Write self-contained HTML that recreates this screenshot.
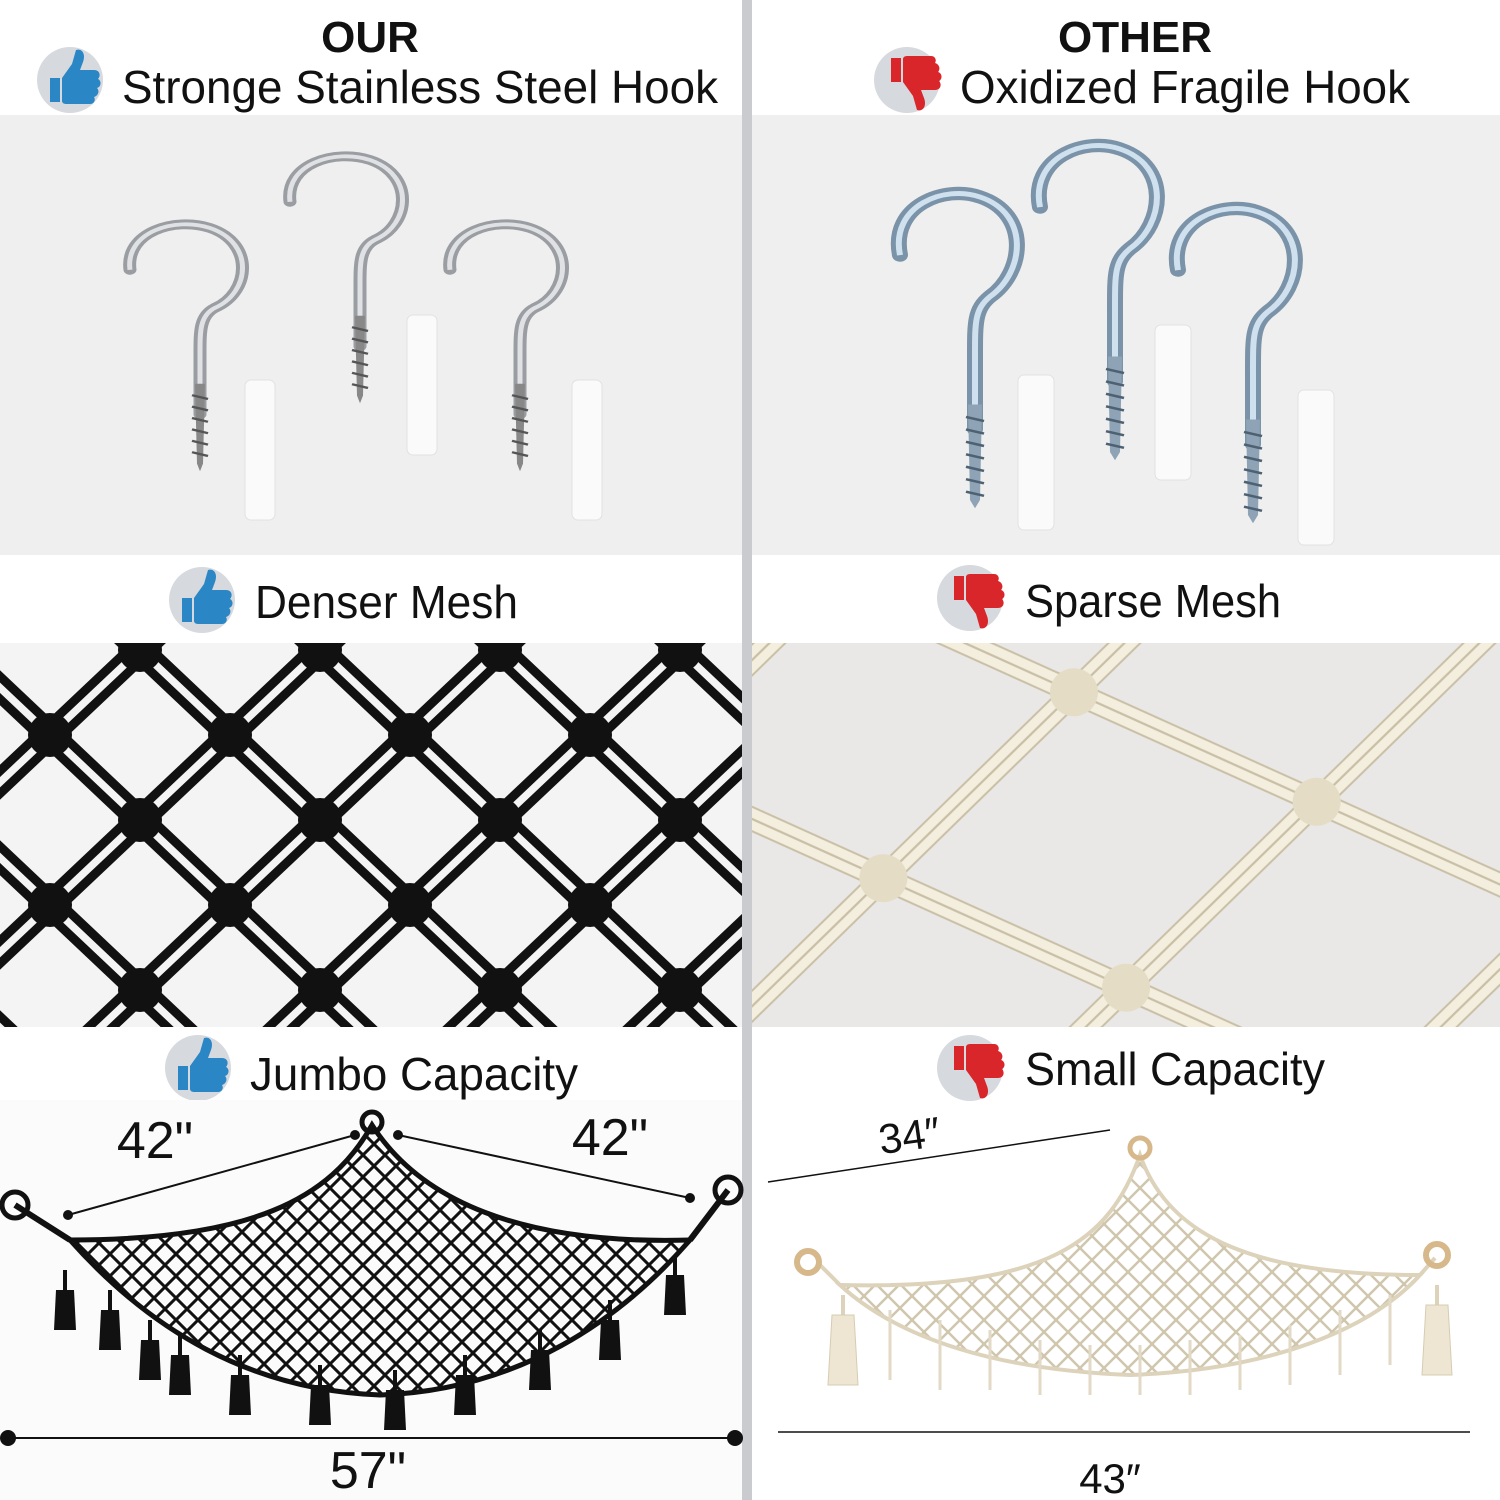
<!DOCTYPE html>
<html><head><meta charset="utf-8"><style>
html,body{margin:0;padding:0;background:#fff}
svg{display:block}
text{font-family:"Liberation Sans","DejaVu Sans",sans-serif;fill:#111}
</style></head><body>
<svg width="1500" height="1500" viewBox="0 0 1500 1500" xmlns="http://www.w3.org/2000/svg">
<defs>
<pattern id="blk" x="-40" y="650" width="180" height="170" patternUnits="userSpaceOnUse">
 <g stroke="#111" stroke-width="9" fill="none" stroke-linecap="round">
  <path d="M-12,0 L78,85 M12,0 L102,85 M168,0 L78,85 M192,0 L102,85 M78,85 L-12,170 M102,85 L12,170 M78,85 L168,170 M102,85 L192,170"/>
 </g>
 <g fill="#111"><circle cx="0" cy="0" r="22"/><circle cx="180" cy="0" r="22"/><circle cx="90" cy="85" r="22"/><circle cx="0" cy="170" r="22"/><circle cx="180" cy="170" r="22"/></g>
</pattern>
<pattern id="crm" x="880" y="540" width="440" height="300" patternUnits="userSpaceOnUse" patternTransform="rotate(-10 1100 840)">
 <g stroke="#c9bfa6" stroke-width="13" fill="none"><path d="M-10,0 L210,150 M10,0 L230,150 M430,0 L210,150 M450,0 L230,150 M210,150 L-10,300 M230,150 L10,300 M210,150 L430,300 M230,150 L450,300"/></g>
 <g stroke="#f3eedd" stroke-width="9" fill="none"><path d="M-10,0 L210,150 M10,0 L230,150 M430,0 L210,150 M450,0 L230,150 M210,150 L-10,300 M230,150 L10,300 M210,150 L430,300 M230,150 L450,300"/></g>
 <g fill="#e4dcc4"><circle cx="0" cy="0" r="24"/><circle cx="440" cy="0" r="24"/><circle cx="220" cy="150" r="24"/><circle cx="0" cy="300" r="24"/><circle cx="440" cy="300" r="24"/></g>
</pattern>
<pattern id="net" width="22" height="22" patternUnits="userSpaceOnUse"><path d="M0,0 L22,22 M22,0 L0,22" stroke="#111" stroke-width="3"/></pattern>
<pattern id="net2" width="24" height="24" patternUnits="userSpaceOnUse"><path d="M0,0 L24,24 M24,0 L0,24" stroke="#cfc6ad" stroke-width="2.5"/></pattern>
<g id="hookL"><path d="M-65,-70 C-70,-120 -20,-140 15,-125 C60,-105 55,-40 20,-20 C5,-10 5,10 5,40 L5,120" stroke="#9a9da2" stroke-width="13" fill="none" stroke-linecap="round"/><path d="M-65,-70 C-70,-120 -20,-140 15,-125 C60,-105 55,-40 20,-20 C5,-10 5,10 5,40 L5,120" stroke="#dfe1e4" stroke-width="5" fill="none"/><path d="M0,80 L10,80 L8,185 L5,195 L2,185 Z" fill="#888" /><path d="M-3,95 L13,100 M-3,110 L13,115 M-3,125 L13,130 M-3,140 L13,145 M-3,155 L13,160 M-3,170 L13,175" stroke="#555" stroke-width="3"/></g>
<g id="hookR"><path d="M-60,-30 C-70,-90 -15,-115 20,-100 C70,-80 65,-10 30,20 C15,35 15,50 15,90 L15,180" stroke="#7a93a8" stroke-width="16" fill="none" stroke-linecap="round"/><path d="M-60,-30 C-70,-90 -15,-115 20,-100 C70,-80 65,-10 30,20 C15,35 15,50 15,90 L15,180" stroke="#cfe0ee" stroke-width="6" fill="none"/><path d="M8,150 L22,150 L20,265 L15,275 L10,265 Z" fill="#8ea3b5"/><path d="M6,165 L24,170 M6,180 L24,185 M6,195 L24,200 M6,210 L24,215 M6,225 L24,230 M6,240 L24,245 M6,255 L24,260" stroke="#4d6172" stroke-width="3"/></g>
<g id="up"><circle r="33" fill="#d6d9de"/><path d="M-20,-2 h10 v24 h-10z M-8,-2 l10,-14 l4,-14 c6,-2 10,4 7,12 l-3,8 h14 c6,0 7,6 4,9 c4,2 3,8 -1,9 c3,3 1,8 -3,9 c2,3 0,7 -4,7 h-24 c-3,0 -4,-2 -4,-3z" fill="#2a86c4"/></g>
<g id="dn"><circle r="33" fill="#d6d9de"/><path d="M-20,2 h10 v-24 h-10z M-8,2 l10,14 l4,14 c6,2 10,-4 7,-12 l-3,-8 h14 c6,0 7,-6 4,-9 c4,-2 3,-8 -1,-9 c3,-3 1,-8 -3,-9 c2,-3 0,-7 -4,-7 h-24 c-3,0 -4,2 -4,3z" fill="#d9262b" transform="translate(4,0)"/></g>
<g id="tas"><path d="M0,0 v20" stroke="#111" stroke-width="4"/><path d="M-9,20 h18 l2,40 h-22z" fill="#111"/></g>
<g id="tasC"><path d="M0,0 v20" stroke="#ddd3bb" stroke-width="4"/><path d="M-11,20 h22 l4,70 h-30z" fill="#eee6d2" stroke="#d6ccb3"/></g>
</defs>

<rect width="1500" height="1500" fill="#fff"/>
<rect x="0" y="115" width="742" height="440" fill="#efefef"/>
<rect x="752" y="115" width="748" height="440" fill="#efefef"/>
<g fill="#fafafa" stroke="#e2e2e2"><rect x="245" y="380" width="30" height="140" rx="6"/><rect x="407" y="315" width="30" height="140" rx="6"/><rect x="572" y="380" width="30" height="140" rx="6"/>
<rect x="1018" y="375" width="36" height="155" rx="6"/><rect x="1155" y="325" width="36" height="155" rx="6"/><rect x="1298" y="390" width="36" height="155" rx="6"/></g>
<use href="#hookL" transform="translate(195,323) scale(1,0.76)"/><use href="#hookL" transform="translate(355,255) scale(1,0.76)"/><use href="#hookL" transform="translate(515,323) scale(1,0.76)"/>
<use href="#hookR" transform="translate(960,280) scale(1,0.83)"/><use href="#hookR" transform="translate(1100,232) scale(1,0.83)"/><use href="#hookR" transform="translate(1238,295) scale(1,0.83)"/>

<rect x="0" y="643" width="742" height="384" fill="#f4f4f4"/>
<rect x="0" y="643" width="742" height="384" fill="url(#blk)"/>
<rect x="752" y="643" width="748" height="384" fill="#e9e8e6"/>
<rect x="752" y="643" width="748" height="384" fill="url(#crm)"/>

<rect x="742" y="0" width="10" height="1500" fill="#c9cbcf"/>

<text x="370" y="52" font-size="44" font-weight="900" text-anchor="middle">OUR</text>
<use href="#up" x="70" y="80"/>
<text x="122" y="103" font-size="46" textLength="596" lengthAdjust="spacingAndGlyphs">Stronge  Stainless Steel Hook</text>
<text x="1135" y="52" font-size="44" font-weight="900" text-anchor="middle">OTHER</text>
<use href="#dn" x="907" y="80"/>
<text x="960" y="103" font-size="46" textLength="450" lengthAdjust="spacingAndGlyphs">Oxidized Fragile Hook</text>

<use href="#up" x="202" y="600"/>
<text x="255" y="618" font-size="46" textLength="263" lengthAdjust="spacingAndGlyphs">Denser Mesh</text>
<use href="#dn" x="970" y="598"/>
<text x="1025" y="617" font-size="46" textLength="256" lengthAdjust="spacingAndGlyphs">Sparse Mesh</text>

<use href="#up" x="198" y="1068"/>
<text x="250" y="1090" font-size="46" textLength="328" lengthAdjust="spacingAndGlyphs">Jumbo Capacity</text>
<use href="#dn" x="970" y="1068"/>
<text x="1025" y="1085" font-size="46" textLength="300" lengthAdjust="spacingAndGlyphs">Small Capacity</text>

<rect x="0" y="1100" width="742" height="400" fill="#fbfbfb"/>
<path d="M372,1125 C330,1200 250,1240 70,1240 C150,1330 250,1390 380,1395 C520,1390 620,1320 690,1240 C520,1245 420,1200 372,1125Z" fill="url(#net)" stroke="#111" stroke-width="5"/>
<path d="M15,1205 L70,1240 M728,1190 L690,1240" stroke="#111" stroke-width="6"/>
<circle cx="15" cy="1205" r="13" fill="none" stroke="#111" stroke-width="5"/>
<circle cx="728" cy="1190" r="13" fill="none" stroke="#111" stroke-width="5"/>
<circle cx="372" cy="1122" r="10" fill="none" stroke="#111" stroke-width="5"/>
<use href="#tas" x="65" y="1270"/><use href="#tas" x="110" y="1290"/><use href="#tas" x="150" y="1320"/><use href="#tas" x="180" y="1335"/><use href="#tas" x="240" y="1355"/><use href="#tas" x="320" y="1365"/><use href="#tas" x="395" y="1370"/><use href="#tas" x="465" y="1355"/><use href="#tas" x="540" y="1330"/><use href="#tas" x="610" y="1300"/><use href="#tas" x="675" y="1255"/>
<g stroke="#111" stroke-width="2"><line x1="68" y1="1215" x2="355" y2="1135"/><line x1="398" y1="1135" x2="690" y2="1198"/><line x1="8" y1="1438" x2="735" y2="1438"/></g>
<g fill="#111"><circle cx="68" cy="1215" r="5"/><circle cx="355" cy="1135" r="5"/><circle cx="398" cy="1135" r="5"/><circle cx="690" cy="1198" r="5"/><circle cx="8" cy="1438" r="8"/><circle cx="735" cy="1438" r="8"/></g>
<text x="155" y="1158" font-size="52" text-anchor="middle">42"</text>
<text x="610" y="1155" font-size="52" text-anchor="middle">42"</text>
<text x="368" y="1488" font-size="52" text-anchor="middle">57"</text>

<path d="M1140,1155 C1110,1240 1050,1290 840,1285 C900,1340 1000,1370 1130,1375 C1270,1370 1370,1330 1420,1275 C1260,1275 1170,1240 1140,1155Z" fill="url(#net2)" stroke="#ddd3bb" stroke-width="4"/>
<path d="M820,1265 L840,1285 M1435,1258 L1420,1275" stroke="#ddd3bb" stroke-width="4"/>
<circle cx="1140" cy="1148" r="10" fill="none" stroke="#d7b88a" stroke-width="5"/>
<circle cx="808" cy="1262" r="11" fill="none" stroke="#d7b88a" stroke-width="6"/>
<circle cx="1437" cy="1255" r="11" fill="none" stroke="#d7b88a" stroke-width="6"/>
<use href="#tasC" x="843" y="1295"/><use href="#tasC" x="1437" y="1285"/>
<g stroke="#e2dac6" stroke-width="3"><path d="M890,1310 v70 M940,1320 v70 M990,1330 v60 M1040,1340 v55 M1090,1345 v50 M1140,1345 v50 M1190,1340 v55 M1240,1335 v55 M1290,1325 v60 M1340,1310 v65 M1390,1295 v70"/></g>
<g stroke="#111" stroke-width="1.5"><line x1="768" y1="1182" x2="1110" y2="1130"/><line x1="778" y1="1432" x2="1470" y2="1432"/></g>
<text x="910" y="1150" font-size="42" text-anchor="middle" transform="rotate(-8 910 1140)">34″</text>
<text x="1110" y="1493" font-size="42" text-anchor="middle">43″</text>
</svg>
</body></html>
